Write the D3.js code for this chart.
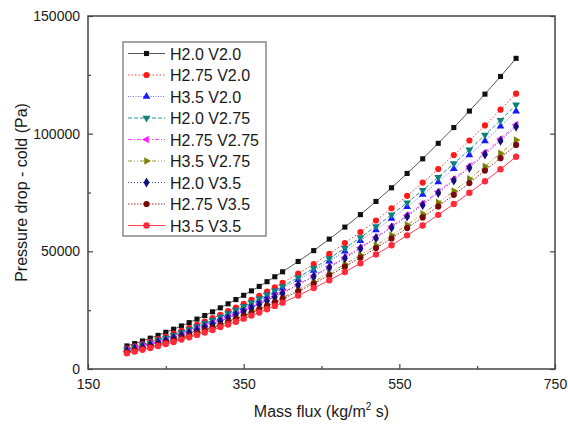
<!DOCTYPE html>
<html>
<head>
<meta charset="utf-8">
<script src="https://cdn.jsdelivr.net/npm/d3@7"></script>
<style>
  body { margin: 0; background: #fff; }
  text { font-family: "Liberation Sans", Arial, sans-serif; fill: #1a1a1a; }
</style>
</head>
<body>
<div id="chart"></div>
<script>
// mass flux values (x axis), dense steps up to 400 then every 20
var massFlux = [200, 210, 220, 230, 240, 250, 260, 270, 280, 290, 300, 310, 320, 330, 340, 350, 360, 370, 380, 390, 400,
  420, 440, 460, 480, 500, 520, 540, 560, 580, 600, 620, 640, 660, 680, 700];

var seriesNames = ["H2.0 V2.0", "H2.75 V2.0", "H3.5 V2.0", "H2.0 V2.75", "H2.75 V2.75",
  "H3.5 V2.75", "H2.0 V3.5", "H2.75 V3.5", "H3.5 V3.5"];

// pressure drop (Pa)
var h20v20 = [9800, 10800, 11900, 13100, 14300, 15600, 16900, 18300, 19700, 21200, 22700, 24300, 26000, 27700, 29500, 31300, 33200, 35100, 37100, 39200, 41300,
  45700, 50300, 55200, 60300, 65600, 71200, 77000, 83100, 89300, 95900, 102600, 109600, 116800, 124300, 132000];
var h275v20 = [8700, 9600, 10600, 11600, 12700, 13800, 15000, 16200, 17500, 18800, 20100, 21600, 23000, 24600, 26100, 27700, 29400, 31100, 32900, 34700, 36600,
  40500, 44600, 48900, 53500, 58200, 63100, 68300, 73600, 79200, 85000, 90900, 97100, 103500, 110200, 117000];
var h35v20 = [8100, 9000, 9900, 10900, 11900, 12900, 14000, 15200, 16300, 17600, 18900, 20200, 21600, 23000, 24500, 26000, 27500, 29100, 30800, 32500, 34300,
  37900, 41800, 45800, 50000, 54500, 59100, 63900, 68900, 74100, 79500, 85100, 90900, 96900, 103100, 109500];
var h20v275 = [8300, 9200, 10200, 11100, 12200, 13200, 14400, 15500, 16800, 18000, 19300, 20700, 22100, 23600, 25100, 26600, 28200, 29900, 31600, 33300, 35100,
  38900, 42800, 47000, 51300, 55900, 60600, 65500, 70700, 76000, 81500, 87300, 93200, 99400, 105700, 112300];
var h275v275 = [7700, 8500, 9400, 10300, 11200, 12200, 13300, 14400, 15500, 16700, 17900, 19100, 20400, 21800, 23200, 24600, 26100, 27600, 29200, 30800, 32500,
  35900, 39600, 43400, 47400, 51600, 56000, 60600, 65300, 70300, 75400, 80700, 86200, 91900, 97700, 103800];
var h35v275 = [7200, 8000, 8800, 9700, 10500, 11500, 12400, 13500, 14500, 15600, 16800, 17900, 19200, 20400, 21700, 23100, 24500, 25900, 27400, 28900, 30400,
  33700, 37100, 40700, 44500, 48400, 52500, 56800, 61200, 65900, 70700, 75600, 80800, 86100, 91600, 97300];
var h20v35 = [7600, 8500, 9300, 10200, 11200, 12100, 13200, 14300, 15400, 16500, 17700, 19000, 20300, 21600, 23000, 24400, 25900, 27400, 29000, 30600, 32200,
  35700, 39300, 43100, 47100, 51200, 55600, 60100, 64800, 69700, 74800, 80100, 85500, 91200, 97000, 103000];
var h275v35 = [7100, 7800, 8600, 9400, 10300, 11200, 12200, 13200, 14200, 15300, 16400, 17600, 18700, 20000, 21300, 22600, 23900, 25300, 26800, 28300, 29800,
  33000, 36300, 39800, 43500, 47300, 51400, 55500, 59900, 64400, 69100, 74000, 79000, 84300, 89600, 95200];
var h35v35 = [6700, 7400, 8200, 8900, 9800, 10600, 11500, 12500, 13500, 14500, 15500, 16600, 17800, 18900, 20100, 21400, 22700, 24000, 25400, 26800, 28200,
  31200, 34400, 37700, 41200, 44900, 48700, 52600, 56800, 61000, 65500, 70100, 74900, 79800, 84900, 90200];

var seriesValues = [h20v20, h275v20, h35v20, h20v275, h275v275, h35v275, h20v35, h275v35, h35v35];

var xTicks = [150, 350, 550, 750];
var xMinorTicks = [250, 450, 650];
var yTicks = [0, 50000, 100000, 150000];
var yMinorTicks = [25000, 75000, 125000];

// look of each series: colour, dash, marker
var styles = [
  { color: "#111", line: "#555", dash: null, symbol: d3.symbolSquare, size: 26, rot: 0 },
  { color: "#ff1a1a", line: "#ff4040", dash: "1.5,2", symbol: d3.symbolCircle, size: 30, rot: 0 },
  { color: "#1a1aff", line: "#7070ff", dash: "1,1.5", symbol: d3.symbolTriangle, size: 26, rot: 0 },
  { color: "#0f8080", line: "#2a9090", dash: "4,2", symbol: d3.symbolTriangle, size: 26, rot: 180 },
  { color: "#ff20ff", line: "#ff40ff", dash: "4,2,1,2", symbol: d3.symbolTriangle, size: 26, rot: -90 },
  { color: "#808000", line: "#9a9a30", dash: "4,2,1,2,1,2", symbol: d3.symbolTriangle, size: 26, rot: 90 },
  { color: "#10107a", line: "#4040a0", dash: "1,2", symbol: d3.symbolDiamond, size: 30, rot: 0 },
  { color: "#7a0a0a", line: "#903030", dash: "1.5,1.5", symbol: d3.symbolCircle, size: 30, rot: 0 },
  { color: "#ff2a3a", line: "#ff4050", dash: null, symbol: d3.symbolCircle, size: 32, rot: 0 }
];

var margin = { top: 16, right: 13, bottom: 56, left: 88 },
  width = 568 - margin.left - margin.right,
  height = 425 - margin.top - margin.bottom;

var svg = d3.select("#chart")
  .append("svg")
  .attr("width", 568)
  .attr("height", 425)
  .append("g")
  .attr("transform", "translate(" + margin.left + "," + margin.top + ")");

var x = d3.scaleLinear().domain([150, 750]).range([0, width]);
var y = d3.scaleLinear().domain([0, 150000]).range([height, 0]);

// lines first, then markers so markers sit on top
seriesValues.forEach(function (vals, i) {
  var st = styles[i];
  var pts = massFlux.map(function (m, j) { return [m, vals[j]]; });
  svg.append("path")
    .datum(pts)
    .attr("fill", "none")
    .attr("stroke", st.line)
    .attr("stroke-width", 1)
    .attr("stroke-dasharray", st.dash)
    .attr("d", d3.line()
      .x(function (d) { return x(d[0]); })
      .y(function (d) { return y(d[1]); }));

  svg.append("g")
    .selectAll("path")
    .data(pts)
    .enter()
    .append("path")
    .attr("d", d3.symbol().type(st.symbol).size(st.size))
    .attr("fill", st.color)
    .attr("transform", function (d) {
      return "translate(" + x(d[0]) + "," + y(d[1]) + ") rotate(" + st.rot + ")";
    });
});

// axes, ticks pointing inward
var axisColor = "#444";

svg.append("g")
  .attr("transform", "translate(0," + height + ")")
  .call(d3.axisBottom(x).tickValues(xTicks).tickSize(-5).tickSizeOuter(0).tickPadding(10).tickFormat(d3.format("d")))
  .call(function (g) { g.selectAll("text").attr("font-size", 14).attr("fill", "#1a1a1a"); });
svg.append("g")
  .attr("transform", "translate(0," + height + ")")
  .call(d3.axisBottom(x).tickValues(xMinorTicks).tickSize(-3).tickSizeOuter(0).tickFormat(""));

svg.append("g")
  .call(d3.axisLeft(y).tickValues(yTicks).tickSize(-5).tickSizeOuter(0).tickPadding(8).tickFormat(d3.format("d")))
  .call(function (g) { g.selectAll("text").attr("font-size", 14).attr("fill", "#1a1a1a"); });
svg.append("g")
  .call(d3.axisLeft(y).tickValues(yMinorTicks).tickSize(-3).tickSizeOuter(0).tickFormat(""));

svg.append("g")
  .attr("transform", "translate(" + width + ",0)")
  .call(d3.axisRight(y).tickValues(yTicks).tickSize(-5).tickSizeOuter(0).tickFormat(""));

svg.selectAll(".domain").attr("stroke", "none");
svg.selectAll(".tick line").attr("stroke", axisColor).attr("stroke-width", 1.2);

// frame around the plot
svg.append("rect")
  .attr("x", 0)
  .attr("y", 0)
  .attr("width", width)
  .attr("height", height)
  .attr("fill", "none")
  .attr("stroke", axisColor)
  .attr("stroke-width", 1.5);

// axis titles
var xTitle = svg.append("text")
  .attr("x", width / 2)
  .attr("y", height + 48)
  .attr("text-anchor", "middle")
  .attr("font-size", 16);
xTitle.append("tspan").text("Mass flux (kg/m");
xTitle.append("tspan").attr("font-size", 10).attr("dy", -7).text("2");
xTitle.append("tspan").attr("dy", 7).text(" s)");

svg.append("text")
  .attr("transform", "translate(" + (27 - margin.left) + "," + (height / 2) + ") rotate(-90)")
  .attr("text-anchor", "middle")
  .attr("font-size", 16)
  .text("Pressure drop - cold (Pa)");

// legend box
var legend = svg.append("g")
  .attr("transform", "translate(" + (123 - margin.left) + "," + (42 - margin.top) + ")");

legend.append("rect")
  .attr("width", 143)
  .attr("height", 194)
  .attr("fill", "#fff")
  .attr("stroke", "#888")
  .attr("stroke-width", 1.5);

seriesNames.forEach(function (name, i) {
  var st = styles[i];
  var ly = 11.5 + i * 21.5;
  legend.append("line")
    .attr("x1", 5).attr("x2", 42)
    .attr("y1", ly).attr("y2", ly)
    .attr("stroke", st.line)
    .attr("stroke-width", 1)
    .attr("stroke-dasharray", st.dash);
  legend.append("path")
    .attr("d", d3.symbol().type(st.symbol).size(st.size))
    .attr("fill", st.color)
    .attr("transform", "translate(23.5," + ly + ") rotate(" + st.rot + ")");
  legend.append("text")
    .attr("x", 47)
    .attr("y", ly + 6)
    .attr("font-size", 16)
    .text(name);
});
</script>
</body>
</html>
